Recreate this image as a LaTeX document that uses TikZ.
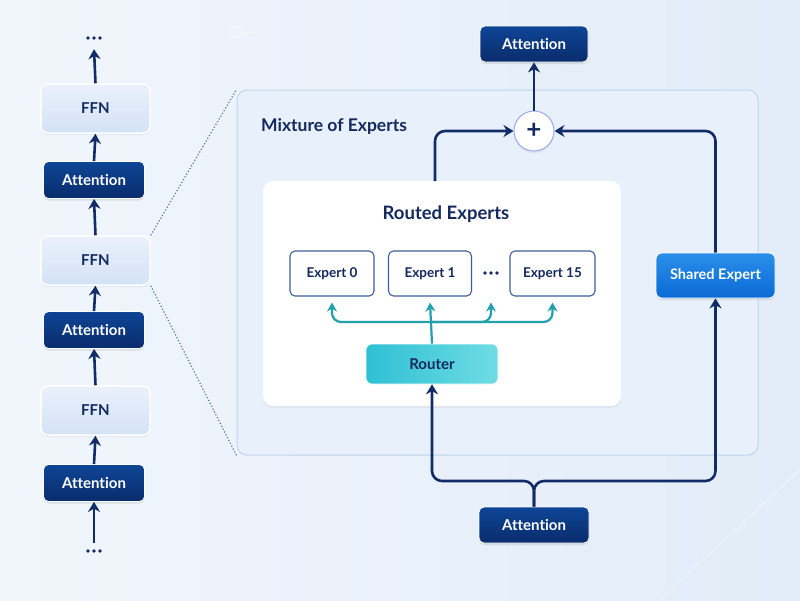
\documentclass[tikz,border=0pt]{standalone}
\usepackage{fontspec}
\setmainfont{Lato}[Ligatures=NoCommon]
\usetikzlibrary{arrows.meta,shadows,calc}
\definecolor{navy}{HTML}{14295E}
\definecolor{arrc}{HTML}{112C66}
\definecolor{attA}{HTML}{0E4596}
\definecolor{attB}{HTML}{0A2C6C}
\definecolor{ffnA}{HTML}{EAF1FC}
\definecolor{ffnB}{HTML}{D3E2F6}
\definecolor{bgA}{HTML}{F1F6FC}
\definecolor{bgB}{HTML}{E2ECF8}
\definecolor{moefill}{HTML}{E8F1FB}
\definecolor{moeline}{HTML}{C0D4EC}
\definecolor{tealc}{HTML}{22A0AC}
\definecolor{routA}{HTML}{6FDCE4}
\definecolor{routB}{HTML}{2FC0D4}
\definecolor{shA}{HTML}{2A8FEA}
\definecolor{shB}{HTML}{0B6AD6}
\definecolor{expline}{HTML}{3E5E9A}
\definecolor{dotc}{HTML}{5C78A8}
\tikzset{
  arr/.style={draw=arrc,line width=2.6pt,-{Stealth[length=10pt,width=12pt]}},
  tarr/.style={draw=tealc,line width=2.2pt,-{Stealth[length=9pt,width=10pt]}},
  attbox/.style={rounded corners=5pt,top color=attA,bottom color=attB,draw=white,line width=0.8pt,
     text=white,font=\bfseries\fontsize{15}{17}\selectfont,minimum width=101pt,minimum height=37pt,
     drop shadow={opacity=0.18,shadow xshift=0pt,shadow yshift=-2pt}},
  ffnbox/.style={rounded corners=7pt,top color=ffnA,bottom color=ffnB,draw=white,line width=1.5pt,
     text=navy,font=\bfseries\fontsize{15}{17}\selectfont,minimum width=109pt,minimum height=49pt,
     drop shadow={opacity=0.10,shadow xshift=0pt,shadow yshift=-2pt}},
  expbox/.style={rounded corners=5pt,fill=white,draw=expline,line width=1.1pt,text=navy,
     font=\bfseries\fontsize{13.5}{15}\selectfont,minimum width=84pt,minimum height=45pt},
  dotsn/.style={minimum width=20pt,minimum height=6pt,inner sep=0pt},
}
\newcommand{\threedots}[1]{%
  \fill[navy] ($(#1)+(-6,0)$) circle (1.9);
  \fill[navy] (#1) circle (1.9);
  \fill[navy] ($(#1)+(6,0)$) circle (1.9);}
\begin{document}
\begin{tikzpicture}[x=1pt,y=-1pt]
% background
\shade[left color=bgA,right color=bgB] (0,0) rectangle (800,600);
\useasboundingbox (0,0) rectangle (800,600);
% faint decorations
\draw[white!70!bgB,line width=1pt] (236,32) circle (6);
\draw[white!60!bgB,line width=0.8pt] (242,32) -- (262,32);
\draw[white!50!bgB,line width=0.8pt] (660,600) -- (800,470);
\draw[white!50!bgB,line width=0.6pt] (0,600) -- (120,500);

% MoE panel
\node[draw=moeline,fill=moefill,rounded corners=10pt,line width=1pt,minimum width=521pt,minimum height=365pt,inner sep=0pt] (moe) at (497.5,272.5) {};
\node[anchor=west,text=navy,font=\bfseries\fontsize{17.5}{20}\selectfont,inner sep=0pt] (moet) at (261,126) {Mixture of Experts};

% routed experts panel
\node[fill=white,rounded corners=10pt,minimum width=358pt,minimum height=225pt,inner sep=0pt,
  drop shadow={opacity=0.10,shadow xshift=0pt,shadow yshift=-2pt}] (routed) at (442,293.5) {};
\node[text=navy,font=\bfseries\fontsize{18.5}{21}\selectfont] (rt) at (446,214) {Routed Experts};
\node[expbox] (e0) at (332,273.5) {Expert 0};
\node[expbox,minimum width=83pt] (e1) at (430,273.5) {Expert 1};
\node[dotsn] (edots) at (491,273) {};
\threedots{edots.center}
\node[expbox,minimum width=85pt] (e15) at (552.5,273.5) {Expert 15};
\node[rounded corners=6pt,left color=routB,right color=routA,minimum width=132pt,minimum height=40pt,
  text=navy,font=\bfseries\fontsize{15}{17}\selectfont,draw=white,line width=0.6pt] (router) at (432,364) {Router};

% router branches
\coordinate (rb) at (432,322);
\draw[tarr] (router.north) -- ($(e1.south)+(0,6)$);
\draw[tarr,rounded corners=9pt] (rb) -| ($(e0.south)+(0,6)$);
\draw[tarr,rounded corners=9pt] (rb) -| ($(edots.center|-e0.south)+(0,6)$);
\draw[tarr,rounded corners=9pt] (rb) -| ($(e15.south)+(0,6)$);

% shared expert
\node[rounded corners=6pt,top color=shA,bottom color=shB,draw=white,line width=0.8pt,minimum width=119pt,minimum height=45pt,
  text=white,font=\bfseries\fontsize{14.5}{16}\selectfont,
  drop shadow={opacity=0.18,shadow xshift=0pt,shadow yshift=-2pt}] (shared) at (715.5,275.5) {Shared Expert};

% plus
\node[circle,fill=white,draw=moeline!80!blue,line width=1pt,minimum size=40pt,inner sep=0pt,text=navy,
  font=\bfseries\fontsize{26}{26}\selectfont,drop shadow={opacity=0.12,shadow xshift=0pt,shadow yshift=-2pt}] (plus) at (534,131) {+};

% top & bottom attention
\node[attbox,minimum width=108pt,minimum height=36pt] (tatt) at (534,44) {Attention};
\node[attbox,minimum width=110pt,minimum height=36pt] (batt) at (534,525) {Attention};

\draw[arr] (plus.north) -- (tatt.south);
\coordinate (lstart) at (435,181);
\draw[arr,rounded corners=10pt] (lstart) |- (plus.west);
\draw[arr,rounded corners=10pt] (shared.north) |- (plus.east);
\coordinate (split) at (534,481);
\draw[arr,rounded corners=10pt] (batt.north) -- (split) -| (router.south);
\draw[arr,rounded corners=10pt] (batt.north) -- (split) -| (shared.south);

% left column
\node[ffnbox] (f1) at (95.5,108.5) {FFN};
\node[attbox] (a1) at (94,180) {Attention};
\node[ffnbox] (f2) at (95.5,260.5) {FFN};
\node[attbox] (a2) at (94,330) {Attention};
\node[ffnbox] (f3) at (95.5,410.5) {FFN};
\node[attbox] (a3) at (94,483) {Attention};
\node[dotsn] (tdots) at (94,38) {};
\threedots{tdots.center}
\node[dotsn] (bdots) at (94,551) {};
\threedots{bdots.center}

\draw[arr] ($(bdots.north)+(0,-5)$) -- (a3.south);
\draw[arr] (a3.north) -- (f3.south);
\draw[arr] (f3.north) -- (a2.south);
\draw[arr] (a2.north) -- (f2.south);
\draw[arr] (f2.north) -- (a1.south);
\draw[arr] (a1.north) -- (f1.south);
\draw[arr] (f1.north) -- ($(tdots.south)+(0,8)$);

% zoom dotted lines
\draw[dotc,line width=1.2pt,dash pattern=on 1.2pt off 2pt] (f2.north east) -- (moe.north west);
\draw[dotc,line width=1.2pt,dash pattern=on 1.2pt off 2pt] (f2.south east) -- (moe.south west);
\end{tikzpicture}
\end{document}
